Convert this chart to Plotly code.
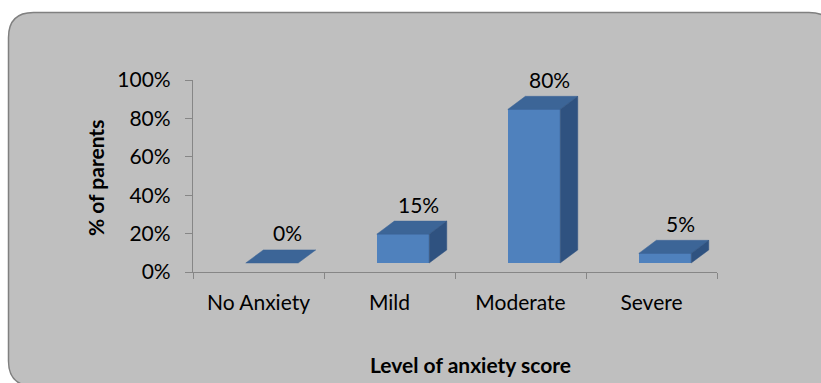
import plotly.graph_objects as go

categories = ["No Anxiety", "Mild", "Moderate", "Severe"]
values = [0.0, 0.15, 0.80, 0.05]
value_labels = ["0%", "15%", "80%", "5%"]
y_ticks = [0, 0.2, 0.4, 0.6, 0.8, 1.0]

W, H = 821, 383
ML, MR, MT, MB = 193, 104, 80, 111
PW, PH = W - ML - MR, H - MT - MB

FONT = "Lato"
FRONT = "#4f81bd"
TOP = "#3c6597"
SIDE = "#2f5280"

# 3D styling constants (in axis units)
shift = 0.103      # front face centre offset from category centre
bw = 0.40          # bar width
base = 0.047       # front face floor lift
ddx = 0.134        # depth offset x
ddy = 0.068        # depth offset y


def px(x, y):
    return (x - ML) / PW, (H - MB - y) / PH


fig = go.Figure()

xs = [i + shift for i in range(len(categories))]
fig.add_trace(go.Bar(x=xs, y=values, base=[base] * len(values), width=bw,
                     marker=dict(color=FRONT, line=dict(width=0)), showlegend=False,
                     hoverinfo="skip"))

for i, v in enumerate(values):
    x0 = xs[i] - bw / 2
    x1 = xs[i] + bw / 2
    yt = base + v
    # top face
    fig.add_trace(go.Scatter(x=[x0, x1, x1 + ddx, x0 + ddx, x0],
                             y=[yt, yt, yt + ddy, yt + ddy, yt],
                             fill="toself", fillcolor=TOP, mode="lines",
                             line=dict(width=0.5, color=TOP), showlegend=False,
                             hoverinfo="skip"))
    # side face
    if v > 0:
        fig.add_trace(go.Scatter(x=[x1, x1, x1 + ddx, x1 + ddx, x1],
                                 y=[base, yt, yt + ddy, base + ddy, base],
                                 fill="toself", fillcolor=SIDE, mode="lines",
                                 line=dict(width=0.5, color=SIDE), showlegend=False,
                                 hoverinfo="skip"))

annotations = []
for i, v in enumerate(values):
    annotations.append(dict(text=value_labels[i], xref="x", yref="y",
                            x=xs[i] + 0.12, y=v + base + ddy,
                            showarrow=False, xanchor="center", yanchor="middle",
                            yshift=17,
                            font=dict(family=FONT, size=21, color="black")))

# frame
x0, y0 = px(8.5, 12.5)
x1, y1 = px(834, 386)
rx = 25 / PW
ry = 25 / PH
path = (f"M {x0},{y0 - ry} L {x0},{y1 + ry} Q {x0},{y1} {x0 + rx},{y1} "
        f"L {x1 - rx},{y1} Q {x1},{y1} {x1},{y1 + ry} L {x1},{y0 - ry} "
        f"Q {x1},{y0} {x1 - rx},{y0} L {x0 + rx},{y0} Q {x0},{y0} {x0},{y0 - ry} Z")

annotations += [
    dict(text="<b>% of parents</b>", xref="paper", yref="paper",
         x=px(95, 178)[0], y=px(95, 178)[1], textangle=-90, showarrow=False,
         font=dict(family=FONT, size=21, color="black"),
         xanchor="center", yanchor="middle"),
    dict(text="<b>Level of anxiety score</b>", xref="paper", yref="paper",
         x=px(470, 364)[0], y=px(470, 364)[1], showarrow=False,
         font=dict(family=FONT, size=21, color="black"),
         xanchor="center", yanchor="middle"),
]

fig.update_layout(
    width=W, height=H,
    margin=dict(l=ML, r=MR, t=MT, b=MB),
    paper_bgcolor="white",
    plot_bgcolor="rgba(0,0,0,0)",
    font=dict(family=FONT, size=21, color="black"),
    shapes=[dict(type="path", xref="paper", yref="paper", path=path,
                 fillcolor="#bfbfbf", line=dict(color="#808080", width=1.5),
                 layer="below")],
    annotations=annotations,
    bargap=0,
)

fig.update_xaxes(range=[-0.5, 3.5], tickvals=list(range(len(categories))),
                 ticktext=categories, ticks="", showline=True, linecolor="#868686",
                 linewidth=1.3, showgrid=False, zeroline=False, fixedrange=True,
                 ticklabelstandoff=12,
                 tickfont=dict(family=FONT, size=21, color="black"),
                 minor=dict(tickvals=[-0.5, 0.5, 1.5, 2.5, 3.5], ticks="outside",
                            ticklen=6, tickcolor="#868686", tickwidth=1.3))
fig.update_yaxes(range=[0, 1], tickvals=y_ticks, tickformat=".0%", ticks="outside",
                 ticklen=7, tickcolor="#868686", tickwidth=1.3, showline=True,
                 linecolor="#868686", linewidth=1.3, showgrid=False, zeroline=False,
                 fixedrange=True, ticklabelstandoff=10,
                 tickfont=dict(family=FONT, size=21, color="black"))

fig.write_html("out.html")
